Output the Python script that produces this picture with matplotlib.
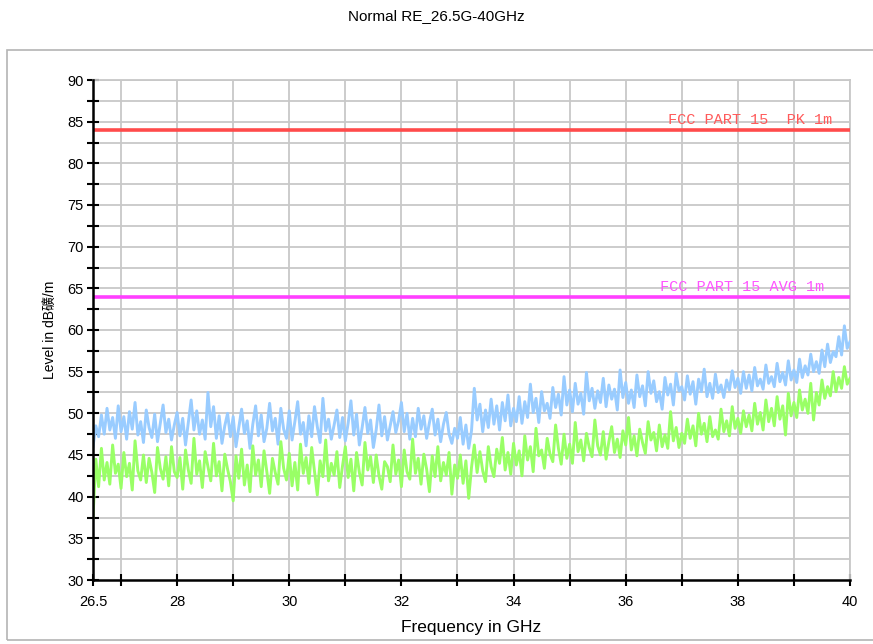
import numpy as np
import matplotlib
matplotlib.use("Agg")
import matplotlib.pyplot as plt
from matplotlib.patches import Rectangle

plt.rcParams['font.family'] = ['Liberation Sans', 'Noto Sans CJK SC', 'DejaVu Sans']

title = "Normal RE_26.5G-40GHz"
x_label = "Frequency in GHz"
y_label = "Level in dB礦/m"
f_start, f_stop = 26.5, 40.0
x_tick_labels = [26.5, 28, 30, 32, 34, 36, 38, 40]
y_tick_labels = [30, 35, 40, 45, 50, 55, 60, 65, 70, 75, 80, 85, 90]

limit_pk = 84.0
limit_avg = 64.0
limit_pk_label = "FCC PART 15  PK 1m"
limit_avg_label = "FCC PART 15 AVG 1m"

peak_trace = [
    46.0, 48.5, 47.2, 49.8, 47.5, 50.6, 48.0, 49.5, 47.0, 50.9,
    47.8, 49.6, 46.9, 50.2, 48.1, 51.3, 47.4, 49.0, 46.5, 50.4, 48.3, 47.1, 49.9, 46.6, 48.8, 51.0, 47.7, 49.3, 46.8, 48.6,
    50.1, 47.3, 49.4, 46.2, 48.9, 51.6, 48.0, 50.3, 47.5, 49.2, 46.9, 52.5, 48.4, 50.8, 47.0, 49.7, 46.4, 48.5, 50.0, 47.2,
    49.6, 46.0, 48.3, 50.5, 47.6, 49.1, 45.8, 48.7, 50.9, 47.3, 49.8, 46.6, 48.2, 51.2, 47.9, 49.4, 46.3, 50.6, 48.1, 47.0,
    50.3, 46.8, 49.0, 51.4, 47.5, 48.9, 46.1, 49.7, 47.2, 50.8, 48.4, 46.5, 51.8, 47.9, 49.3, 46.9, 48.6, 50.4, 47.1, 49.5,
    46.7, 48.8, 51.5, 47.4, 49.9, 46.2, 48.3, 50.7, 47.6, 49.2, 45.9, 48.0, 51.0, 47.3, 49.6, 46.8, 48.5, 50.2, 47.7, 49.1,
    51.3, 47.8, 50.0, 46.9, 49.4, 47.2, 50.6, 48.1, 49.7, 47.0, 48.9, 50.5, 47.4, 49.3, 46.6, 48.7, 50.1, 47.5, 46.4, 48.2,
    47.0, 49.5, 46.3, 48.6, 45.8, 47.9, 53.0, 49.2, 51.1, 47.8, 50.4, 48.3, 51.7, 48.7, 50.9, 48.0, 51.3, 49.1, 52.2, 48.5,
    50.6, 49.0, 52.0, 48.8, 51.4, 49.5, 53.5, 50.1, 51.8, 48.9, 52.6, 50.3, 51.2, 49.4, 53.1, 50.7, 52.3, 49.8, 54.4, 51.0,
    52.8, 50.2, 53.6, 51.1, 52.4, 49.9, 54.9, 51.5, 53.0, 50.6, 52.7, 51.3, 54.2, 50.8, 53.4, 51.7, 52.9, 50.4, 55.2, 51.9,
    53.7, 51.2, 52.8, 50.7, 54.6, 52.0, 53.3, 50.9, 55.0, 52.4, 53.9, 51.4, 52.6, 50.5, 54.3, 52.2, 53.5, 51.0, 54.8, 52.7,
    53.2, 51.6, 54.5, 52.3, 53.8, 51.1, 54.1, 52.6, 55.3, 52.0, 53.6, 51.8, 54.7, 52.5, 53.4, 51.9, 54.0, 52.8, 55.1, 53.1,
    54.2, 52.4, 55.0, 53.0, 54.6, 52.7, 55.5, 53.3, 54.1, 52.9, 55.8, 53.6, 54.4, 53.2, 56.0, 53.8, 54.9, 53.4, 56.3, 54.0,
    55.2, 53.7, 56.5, 54.3, 55.7, 54.6, 57.1, 55.0, 56.2, 54.8, 57.6, 55.6, 58.3, 56.1, 57.4, 56.8, 59.2, 57.0, 60.5, 57.8,
    58.6,
]

avg_trace = [
    37.5, 44.5, 41.2, 45.8, 42.0, 44.1, 41.5, 46.2, 42.8, 43.9,
    41.0, 45.3, 42.4, 44.0, 40.8, 46.7, 43.1, 42.0, 45.0, 41.7, 44.6, 42.9, 40.5, 45.9, 43.4, 42.1, 44.8, 41.3, 46.0, 43.0,
    42.3, 44.7, 40.9, 45.6, 43.2, 41.6, 47.0, 42.7, 44.3, 41.1, 45.4, 43.6, 41.9, 46.4, 42.5, 44.2, 40.7, 45.1, 43.3, 41.8,
    39.5, 44.9, 42.2, 45.7, 41.4, 43.8, 40.6, 46.1, 42.6, 44.4, 41.2, 45.5, 43.0, 40.4, 44.6, 42.9, 41.5, 46.6, 43.4, 42.0,
    45.2, 41.3, 44.1, 40.8, 46.3, 42.8, 44.7, 41.6, 45.9, 43.1, 40.2, 44.3, 42.4, 46.8, 41.9, 44.0, 42.6, 45.4, 41.1, 43.7,
    46.0, 42.3, 44.5, 40.7, 45.3, 42.9, 41.4, 46.5, 43.2, 44.8, 41.7, 45.0, 42.5, 40.9, 44.2, 43.6, 41.8, 46.2, 42.7, 44.4,
    41.2, 45.6, 43.0, 42.1, 46.9, 42.8, 44.6, 41.5, 45.1, 43.3, 40.6, 44.9, 42.4, 46.0, 41.9, 44.1, 42.6, 45.3, 40.3, 43.8,
    42.2, 45.0, 41.6, 44.3, 39.8, 43.5, 46.2, 42.9, 45.4, 43.1, 41.8, 46.0, 43.6, 42.4, 45.7, 44.0, 47.1, 43.2, 45.3, 42.7,
    46.4, 43.8, 45.5, 42.5, 47.3, 44.4, 46.0, 43.0, 48.2, 44.9, 45.6, 43.4, 47.0, 45.1, 44.2, 48.6, 45.8, 43.9, 47.5, 44.6,
    46.3, 44.0, 48.9, 45.4, 46.8, 44.3, 47.6, 45.9, 44.8, 49.2, 46.1, 45.0, 47.8, 44.5, 46.6, 48.4, 45.3, 46.9, 44.7, 47.9,
    46.2, 49.5, 45.6, 47.3, 44.9, 48.1, 46.5, 45.2, 49.0, 46.8, 47.7, 45.5, 48.6, 46.0, 47.4, 45.8, 50.2, 46.7, 48.3, 45.9,
    47.6, 46.4, 49.3, 47.0, 48.5, 46.1, 50.0, 47.5, 48.8, 46.6, 49.6, 47.2, 48.0, 46.9, 50.5, 47.8, 49.1, 47.3, 50.8, 48.2,
    49.4, 47.6, 50.3, 48.4, 49.8, 47.9, 51.2, 48.7, 50.1, 48.0, 51.6, 49.0, 50.6, 48.5, 52.0, 49.3, 50.9, 47.4, 52.4, 49.7,
    51.3, 49.5, 52.8, 50.4, 51.7, 50.0, 53.6, 49.2, 52.5, 51.0, 54.0, 51.8, 53.2, 52.1, 55.0, 52.6, 54.3, 53.0, 55.6, 53.5,
    54.2,
]

freq = np.linspace(f_start, f_stop, len(peak_trace))

fig = plt.figure(figsize=(8.73, 6.44), dpi=100)
fig.patches.append(Rectangle((7 / 873, 4 / 644), 1.0, (644 - 50 - 4) / 644,
                             transform=fig.transFigure, fill=False,
                             edgecolor='#b4b4b4', linewidth=1.2, zorder=0))
ax = fig.add_axes([93 / 873, 64 / 644, (850 - 93) / 873, 500 / 644])

grid_c = '#c8c8c8'
ax.set_xlim(f_start, f_stop)
ax.set_ylim(30, 90)

for xv in range(27, 41):
    ax.axvline(xv, color=grid_c, lw=1.3, zorder=1)
for yv in np.arange(32.5, 90.1, 2.5):
    ax.axhline(yv, color=grid_c, lw=1.3, zorder=1)

ax.plot(freq, peak_trace, color='#99ccff', lw=2.1, zorder=3)
ax.plot(freq, avg_trace, color='#99ff66', lw=2.1, zorder=4)

ax.axhline(limit_pk, color='#ff4b4b', lw=2.6, zorder=5)
ax.axhline(limit_avg, color='#ff40ff', lw=2.6, zorder=5)
ax.text(36.755, limit_pk + 0.3, limit_pk_label, color='#ff5a5a',
        family=['Liberation Mono'], fontsize=11, va='bottom', ha='left', zorder=6)
ax.text(36.61, limit_avg + 0.3, limit_avg_label, color='#ff55ff',
        family=['Liberation Mono'], fontsize=11, va='bottom', ha='left', zorder=6)

ax.set_xticks(x_tick_labels)
ax.set_xticklabels(['26.5', '28', '30', '32', '34', '36', '38', '40'])
ax.set_xticks(list(range(27, 41)), minor=True)
ax.set_yticks(y_tick_labels)
ax.set_yticks(np.arange(32.5, 90, 5), minor=True)
ax.tick_params(axis='both', which='both', direction='inout', color='black', width=1.5)
ax.tick_params(axis='both', which='major', length=9, labelsize=10.5)
ax.tick_params(axis='both', which='minor', length=9)
ax.tick_params(axis='x', pad=6)
ax.tick_params(axis='y', pad=2)

for s in ['top', 'right']:
    ax.spines[s].set_color(grid_c)
    ax.spines[s].set_linewidth(1.3)
for s in ['left', 'bottom']:
    ax.spines[s].set_color('black')
    ax.spines[s].set_linewidth(1.8)
    ax.spines[s].set_zorder(7)

ax.set_xlabel(x_label, fontsize=12.5, labelpad=8)
ax.set_ylabel(y_label, fontsize=10, labelpad=8)
fig.text(0.5, 1 - 16 / 644, title, ha='center', va='center', fontsize=11)

fig.savefig('out.png', dpi=100)
